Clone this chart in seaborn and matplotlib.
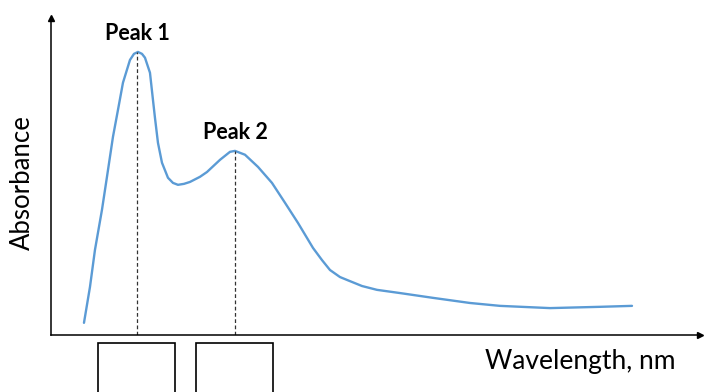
import matplotlib
matplotlib.use("Agg")
import matplotlib.pyplot as plt
from matplotlib.patches import Rectangle
import pandas as pd
import seaborn as sns

# Absorbance spectrum (arbitrary units)
wavelength = [233, 239, 244, 251, 256, 262, 267, 272, 279, 283, 287, 291, 294,
              299, 302, 304, 307, 311, 317, 322, 327, 333, 339, 349, 356, 369,
              379, 384, 394, 407, 421, 434, 447, 462, 471, 479, 489, 496, 511,
              526, 549, 582, 619, 649, 699, 749, 781]
absorbance = [0.038, 0.150, 0.266, 0.391, 0.494, 0.619, 0.703, 0.788, 0.859,
              0.878, 0.884, 0.878, 0.866, 0.819, 0.734, 0.678, 0.600, 0.538,
              0.491, 0.475, 0.469, 0.472, 0.478, 0.494, 0.509, 0.547, 0.572,
              0.575, 0.563, 0.525, 0.475, 0.413, 0.350, 0.272, 0.234, 0.203,
              0.181, 0.172, 0.153, 0.141, 0.131, 0.116, 0.100, 0.091, 0.084,
              0.088, 0.091]

peak_labels = ["Peak 1", "Peak 2"]
peak_wl = [286, 384]
peak_abs = [0.884, 0.575]

df = pd.DataFrame({"wavelength": wavelength, "absorbance": absorbance})

sns.set_style("white")
plt.rcParams["font.family"] = ["Lato", "DejaVu Sans"]
plt.rcParams["text.color"] = "black"

fig = plt.figure(figsize=(7.05, 3.92), dpi=100)
ax = fig.add_axes([0.0723, 0.1454, 0.9206, 0.8087])

sns.lineplot(data=df, x="wavelength", y="absorbance", ax=ax,
             color="#5b9bd5", linewidth=1.7, solid_joinstyle="round")

# dashed drop lines from each peak
for wl, a in zip(peak_wl, peak_abs):
    ax.plot([wl, wl], [0, a], color="#333333", lw=0.9, ls=(0, (3, 2)))

for lab, wl, a in zip(peak_labels, peak_wl, peak_abs):
    ax.annotate(lab, (wl, a), xytext=(0, 6), textcoords="offset points",
                ha="center", va="bottom", fontsize=15.5, fontweight="bold",
                color="black")

# empty boxes under each peak
trans = ax.get_xaxis_transform()
for wl in peak_wl:
    ax.add_patch(Rectangle((wl - 38.5, -0.2), 77, 0.175, transform=trans,
                           fill=False, edgecolor="black", lw=1.2, clip_on=False))

ax.set_xlim(200, 849)
ax.set_ylim(0, 0.99)
ax.set_xticks([])
ax.set_yticks([])
ax.set_xlabel("")
ax.set_ylabel("")
for side in ["top", "right"]:
    ax.spines[side].set_visible(False)
for side in ["left", "bottom"]:
    ax.spines[side].set_color("black")
    ax.spines[side].set_linewidth(1.1)

# arrow heads on the axes
ax.plot(1, 0, ">", color="black", ms=5, transform=ax.transAxes, clip_on=False)
ax.plot(0, 1, "^", color="black", ms=5, transform=ax.transAxes, clip_on=False)

fig.text(22 / 705, 1 - 183 / 392, "Absorbance", rotation=90,
         ha="center", va="center", fontsize=18.5, color="black")
fig.text(580 / 705, 1 - 362 / 392, "Wavelength, nm",
         ha="center", va="center", fontsize=19, color="black")

fig.savefig("out.png", dpi=100)
